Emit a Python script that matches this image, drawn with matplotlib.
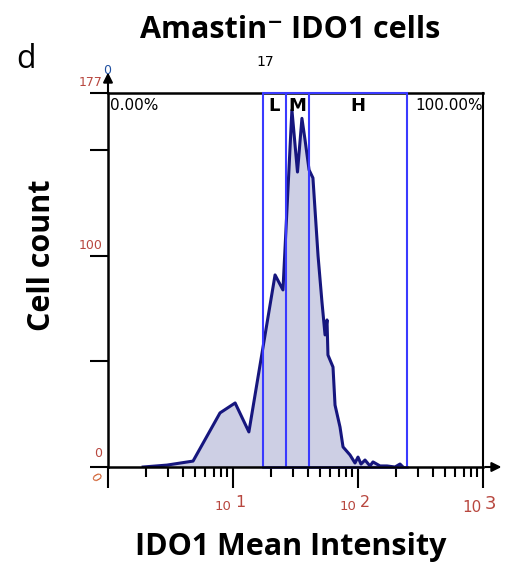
import matplotlib
matplotlib.use("Agg")
import matplotlib.pyplot as plt
import numpy as np

# histogram trace (IDO1 mean intensity, cell count)
intensity = [1.91, 2.96, 4.79, 7.87, 10.4, 13.4, 21.7, 25.1, 29.6, 32.8, 35.6, 37.7,
             40.6, 43.6, 47.9, 51.5, 54.5, 56.5, 57.5, 63.1, 65.5, 71.8, 75.9, 86.3,
             94.6, 100, 105.7, 113.8, 124.7, 131.8, 150, 170.6, 197.7, 216.8, 229]
counts = [0, 0.9, 2.8, 25.6, 30.3, 16.6, 90.9, 83.8, 169.0, 139.6, 165.0, 154.8,
          140.6, 136.8, 100.0, 78.0, 62.5, 69.6, 53.0, 47.3, 29.3, 18.9, 9.5, 5.7,
          1.9, 4.7, 1.4, 3.3, 0.5, 2.4, 0.5, 0.5, 0, 1.4, 0]

# gates L / M / H
gate_edges = [17.4, 26.4, 40.2, 246]
gate_names = ["L", "M", "H"]

y_ticks = [0, 50, 100, 150, 177]
y_labels = {0: "0", 100: "100", 177: "177"}
x_decades = [1, 2, 3]

W, H = 506, 567
fig = plt.figure(figsize=(W / 100, H / 100), dpi=100)
ax = fig.add_axes([108 / W, 1 - 467 / H, 375 / W, 374 / H])

navy = "#16167e"
fill = "#cdcfe4"
blue = "#3a3aff"
red = "#b8473f"

ax.fill_between(intensity, counts, color=fill, lw=0)
ax.plot(intensity, counts, color=navy, lw=2.2)

ax.set_xscale("log")
ax.set_xlim(1, 1000)
ax.set_ylim(0, 177)

for s in ["top", "right"]:
    ax.spines[s].set_visible(False)
for s in ["left", "bottom"]:
    ax.spines[s].set_linewidth(1.8)
ax.axhline(177, color="black", lw=1.8, clip_on=False)
ax.axvline(1000, color="black", lw=1.5, clip_on=False)

ax.set_yticks(y_ticks)
ax.set_yticklabels([])
ax.tick_params(axis="y", direction="out", length=13, width=1.5)
ax.tick_params(axis="x", which="major", direction="out", length=15, width=1.5)
ax.tick_params(axis="x", which="minor", direction="out", length=7, width=1.5)
ax.set_xticklabels([])
ax.xaxis.set_minor_formatter(matplotlib.ticker.NullFormatter())

# gate rectangle and dividers
for e in gate_edges:
    ax.axvline(e, color=blue, lw=1.5)
ax.plot([gate_edges[0], gate_edges[-1]], [177, 177], color=blue, lw=1.5, clip_on=False)
ax.plot([gate_edges[0], gate_edges[-1]], [0, 0], color=blue, lw=1.8, clip_on=False)
for i, name in enumerate(gate_names):
    xm = np.sqrt(gate_edges[i] * gate_edges[i + 1])
    ax.text(xm, 171, name, ha="center", va="center", fontsize=13, fontweight="bold")

ax.text(1.03, 171, "0.00%", ha="left", va="center", fontsize=11)
ax.text(990, 171, "100.00%", ha="right", va="center", fontsize=11)

# axis arrows
ax.annotate("", xy=(1, 188), xytext=(1, 176), annotation_clip=False,
            arrowprops=dict(arrowstyle="-|>", color="black", lw=1.5, mutation_scale=14))
ax.annotate("", xy=(10 ** 3.17, 0), xytext=(990, 0), annotation_clip=False,
            arrowprops=dict(arrowstyle="-|>", color="black", lw=1.5, mutation_scale=14))

# y tick labels
for v, lab in y_labels.items():
    ax.annotate(lab, xy=(1, v), xytext=(-4, 3 if v else 5), textcoords="offset points",
                ha="right", va="bottom", fontsize=9, color=red)
ax.annotate("0", xy=(1, 0), xytext=(-7, -6), textcoords="offset points",
            ha="center", va="center", fontsize=9, color="#d06030", rotation=120)

# x tick labels
for d in x_decades:
    big = 11 if d == 3 else 9.5
    ax.annotate("10", xy=(10 ** d, 0), xytext=(-1, -24), textcoords="offset points",
                ha="right", va="top", fontsize=big, color=red)
    ax.annotate(str(d), xy=(10 ** d, 0), xytext=(1.5, -20), textcoords="offset points",
                ha="left", va="top", fontsize=big + 2, color=red)

# header texts
bold = ["Open Sans", "DejaVu Sans"]
fig.text(265 / W, 1 - 62 / H, "17", ha="center", va="center", fontsize=10)
fig.text(107 / W, 1 - 70 / H, "0", ha="center", va="center", fontsize=9, color="#2050a0")
fig.text(26 / W, 1 - 60 / H, "d", ha="center", va="center", fontsize=23, family="Open Sans")
fig.text(290 / W, 1 - 38 / H, "Amastin\u207b IDO1 cells", ha="center", va="baseline",
         fontsize=22, fontweight="bold", family=bold)
fig.text(291 / W, 1 - 555 / H, "IDO1 Mean Intensity", ha="center", va="baseline",
         fontsize=22, fontweight="bold", family=bold)
fig.text(42 / W, 1 - 255 / H, "Cell count", ha="center", va="center", rotation=90,
         fontsize=22, fontweight="bold", family=bold)

fig.savefig("out.png", dpi=100)
